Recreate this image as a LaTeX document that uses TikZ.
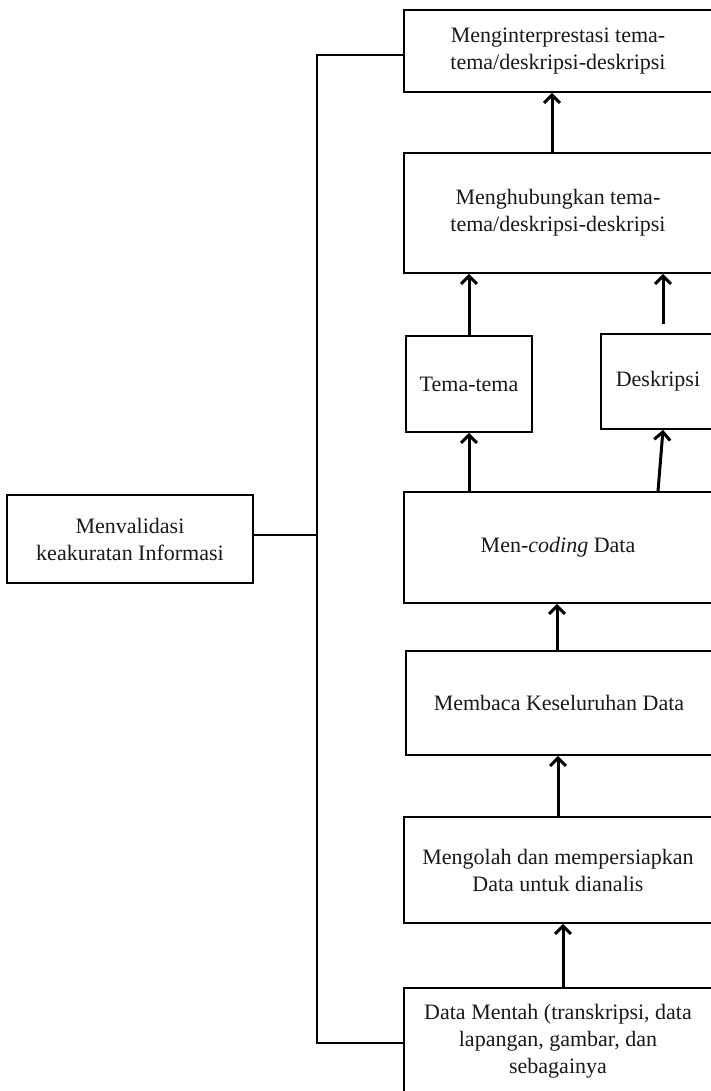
\documentclass[tikz,border=0pt]{standalone}
\usepackage{fontspec}
\setmainfont{Liberation Serif}
\usetikzlibrary{arrows.meta}
\begin{document}
\begin{tikzpicture}[x=1pt,y=-1pt,
  stepbox/.style={draw=black, line width=1.7pt, rectangle, inner sep=0pt,
    align=center, text=black!90, font=\fontsize{22}{27}\selectfont},
  flow/.style={line width=3pt, -{Straight Barb[length=8pt,width=16pt,line width=3pt]}},
  link/.style={line width=1.7pt}]
\useasboundingbox (0,0) rectangle (711,1091);
\fill[white] (0,0) rectangle (711,1091);
\clip (0,0) rectangle (711,1091);

% process boxes (right edges run past the page)
\node[stepbox, minimum width=308pt, minimum height=82pt] (interp) at (558,51)
  {Menginterprestasi tema-\\tema/deskripsi-deskripsi};
\node[stepbox, minimum width=308pt, minimum height=120pt] (hub) at (558,213)
  {Menghubungkan tema-\\tema/deskripsi-deskripsi};
\node[stepbox, minimum width=126pt, minimum height=96pt] (tema) at (469,384)
  {Tema-tema};
\node[stepbox, minimum width=114pt, minimum height=95pt] (desk) at (658,381.5)
  {Deskripsi};
\node[stepbox, minimum width=308pt, minimum height=111pt] (coding) at (558,547.5)
  {Men-\textit{coding} Data};
\node[stepbox, minimum width=306pt, minimum height=104pt] (baca) at (559,703)
  {Membaca Keseluruhan Data};
\node[stepbox, minimum width=308pt, minimum height=106pt] (olah) at (558,870)
  {Mengolah dan mempersiapkan\\Data untuk dianalis};
\node[stepbox, minimum width=308pt, minimum height=106pt] (mentah) at (558,1041)
  {Data Mentah (transkripsi, data\\lapangan, gambar, dan\\sebagainya};
\node[stepbox, minimum width=246pt, minimum height=88pt] (valid) at (130,539)
  {Menvalidasi\\keakuratan Informasi};

% validation bracket on the left
\coordinate (top) at (317,55);
\coordinate (bot) at (317,1043);
\coordinate (mid) at (317,535);
\draw[link] (interp.west |- top) -- (top) -- (bot) -- (mentah.west |- bot);
\draw[link] (valid.east |- mid) -- (mid);

% upward flow
\draw[flow] (mentah.north -| 563,0) -- (olah.south -| 563,0);
\draw[flow] (olah.north -| 558,0) -- (baca.south -| 558,0);
\draw[flow] (baca.north -| 557,0) -- (coding.south -| 557,0);
\draw[flow] (coding.north -| tema.south) -- (tema.south);
\draw[flow] (coding.north -| 658,0) -- (desk.south -| 663,0);
\draw[flow] (tema.north) -- (hub.south -| tema.north);
\draw[flow, shorten <=9pt] (desk.north -| 663,0) -- (hub.south -| 663,0);
\draw[flow] (hub.north -| 552,0) -- (interp.south -| 552,0);
\end{tikzpicture}
\end{document}
